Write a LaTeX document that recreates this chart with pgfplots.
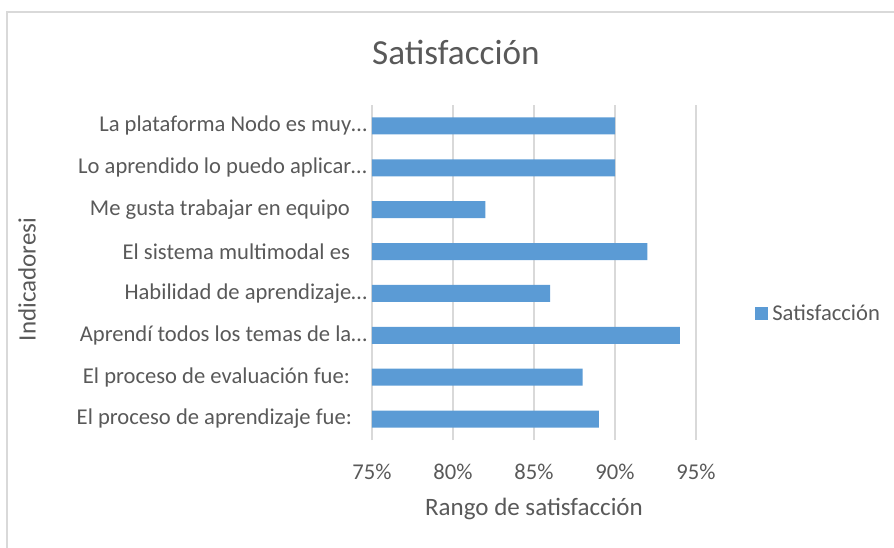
\documentclass[border=0pt]{standalone}
\usepackage{fontspec}
\setmainfont{Carlito}
\usepackage{pgfplots}
\pgfplotsset{compat=1.18}
\definecolor{barblue}{HTML}{5B9BD5}
\definecolor{txtgray}{HTML}{595959}
\definecolor{gridgray}{HTML}{D9D9D9}
\begin{document}
\begin{tikzpicture}
\path[use as bounding box] (0pt,0pt) rectangle (447pt,273.5pt);
\draw[gridgray, line width=0.8pt] (3.5pt,-3pt) -- (3.5pt,267.5pt) -- (450pt,267.5pt);
\begin{axis}[
  at={(186pt,53.5pt)}, anchor=south west,
  scale only axis, width=162pt, height=167.5pt,
  xbar, bar width=8.5pt,
  xmin=75, xmax=95, ymin=-0.5, ymax=7.5,
  xtick={75,80,85,90,95},
  xticklabel={\pgfmathprintnumber{\tick}\%},
  ytick={0,1,2,3,4,5,6,7},
  yticklabels={
    {El proceso de aprendizaje fue:\kern7.5pt},
    {El proceso de evaluación fue:\kern8.5pt},
    {Aprendí todos los temas de la…},
    {Habilidad de aprendizaje…},
    {El sistema multimodal es\kern8.5pt},
    {Me gusta trabajar en equipo\kern8.5pt},
    {Lo aprendido lo puedo aplicar…},
    {La plataforma Nodo es muy…}},
  /pgf/number format/assume math mode=true,
  major tick length=0pt,
  axis line style={draw=none},
  xmajorgrids, grid style={gridgray, line width=0.8pt},
  tick label style={font=\fontsize{11.3}{13}\selectfont, text=txtgray},
  xticklabel style={yshift=-8.5pt},
  yticklabel style={xshift=1pt},
  title={Satisfacción},
  title style={font=\fontsize{17.6}{20}\selectfont, text=txtgray, at={(axis description cs:0.259,1.122)}, anchor=center},
  xlabel={Rango de satisfacción},
  xlabel style={font=\fontsize{12.5}{14}\selectfont, text=txtgray, at={(axis description cs:0.5,-0.206)}, anchor=center},
  ylabel={Indicadoresi},
  ylabel style={font=\fontsize{12.5}{14}\selectfont, text=txtgray, at={(axis description cs:-1.065,0.479)}, anchor=center, rotate=0},
  legend style={at={(axis description cs:1.182,0.376)}, anchor=west, draw=none, fill=none, inner sep=0pt, font=\fontsize{11.3}{13}\selectfont, text=txtgray, /tikz/every even column/.append style={column sep=0pt}},
  legend cell align=left,
  legend image code/.code={\fill[barblue] (0pt,-3.2pt) rectangle (6.5pt,3.3pt);},
]
\addplot[fill=barblue, draw=none] coordinates {
  (89,0) (88,1) (94,2) (86,3) (92,4) (82,5) (90,6) (90,7)
};
\addlegendentry{Satisfacción}
\end{axis}
\end{tikzpicture}
\end{document}
